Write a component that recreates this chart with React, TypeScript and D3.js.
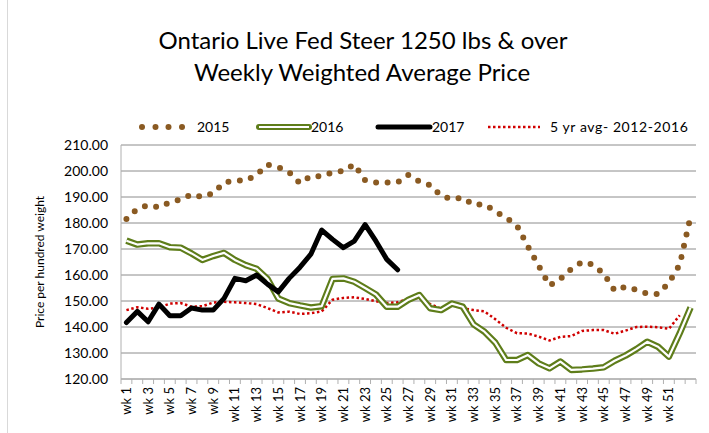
import React from 'react';
import * as d3 from 'd3';

const weeks: string[] = [
  'wk 1', 'wk 2', 'wk 3', 'wk 4', 'wk 5', 'wk 6', 'wk 7', 'wk 8', 'wk 9', 'wk 10',
  'wk 11', 'wk 12', 'wk 13', 'wk 14', 'wk 15', 'wk 16', 'wk 17', 'wk 18', 'wk 19', 'wk 20',
  'wk 21', 'wk 22', 'wk 23', 'wk 24', 'wk 25', 'wk 26', 'wk 27', 'wk 28', 'wk 29', 'wk 30',
  'wk 31', 'wk 32', 'wk 33', 'wk 34', 'wk 35', 'wk 36', 'wk 37', 'wk 38', 'wk 39', 'wk 40',
  'wk 41', 'wk 42', 'wk 43', 'wk 44', 'wk 45', 'wk 46', 'wk 47', 'wk 48', 'wk 49', 'wk 50',
  'wk 51', 'wk 52', '',
];

const yTicks = [120, 130, 140, 150, 160, 170, 180, 190, 200, 210];

const s2015 = [
  181.5, 185.5, 186.8, 186, 188, 189, 191, 190, 191.5, 195.6,
  196.3, 196.3, 198.5, 202.4, 201.5, 199.5, 195.3, 198, 198, 199.5,
  200, 202.6, 196.5, 195.6, 195.6, 195.6, 198.5, 196, 194.5, 190.5,
  189.2, 189.7, 187, 187.2, 184.5, 182, 179, 171, 163.5, 156,
  158.5, 162.3, 165, 164, 160.5, 154, 155.5, 154.3, 152.8, 152.7,
  157, 164, 182.5,
];

const s2016 = [
  173.2, 171.7, 172.2, 172.2, 170.7, 170.5, 168.3, 165.8, 167.3, 168.5,
  165.8, 163.8, 162.4, 158.5, 151, 149.2, 148.3, 147.5, 148, 158.5,
  158.7, 157.4, 155, 152.5, 147.8, 147.8, 150.5, 152.3, 147.2, 146.5,
  149, 147.8, 141, 138.2, 134, 127.3, 127.3, 129.2, 126, 124.1,
  126.7, 123.5, 123.7, 124, 124.5, 127, 129, 131.5, 134.3, 132.4,
  128.6, 137.6, 147.5,
];

const s2017 = [
  141.7, 146, 142, 148.8, 144.3, 144.3, 147.3, 146.5, 146.5, 151,
  158.7, 157.8, 160, 156.5, 153.5, 158.7, 163, 168, 177.3, 173.7,
  170.5, 173, 179.4, 173, 166, 162,
];

const avg5 = [
  146.5, 147.6, 147, 147.5, 149, 149.2, 147.8, 148, 149.4, 149.7,
  149.5, 149.2, 148.8, 147.3, 145.6, 145.9, 145, 145.3, 146, 150.5,
  151.2, 151.4, 150.8, 149.9, 149.2, 149.5, 151, 151.2, 148.8, 147,
  148.5, 147.2, 146.5, 146, 143, 139.7, 137.6, 137.5, 136.3, 134.8,
  136.2, 136.5, 138.5, 138.8, 138.8, 137.4, 138.6, 140, 140.1, 139.9,
  139.3, 144.5,
];

const W = 709;
const H = 433;
const left = 121;
const right = 696;
const top = 145;
const bottom = 379;
const font = 'Lato, "Open Sans", sans-serif';

const brown = '#8a5a22';
const green = '#5e7d1a';
const red = '#d00000';

export default function App() {
  const x = d3.scaleBand<string>().domain(weeks.map((_, i) => String(i))).range([left, right]).padding(0);
  const y = d3.scaleLinear().domain([120, 210]).range([bottom, top]);
  const cx = (i: number) => (x(String(i)) ?? 0) + x.bandwidth() / 2;

  const line = d3.line<number>().x((_, i) => cx(i)).y(d => y(d));

  return (
    <svg width={W} height={H} style={{ position: 'absolute', left: 0, top: 0, background: '#fff' }}>
      <rect x={7.5} y={-1} width={W} height={H + 2} fill="none" stroke="#d9d9d9" />
      {/* title */}
      <text x={363} y={49} textAnchor="middle" fontFamily={font} fontSize={24} fill="#000">
        Ontario Live Fed Steer 1250 lbs &amp; over
      </text>
      <text x={362} y={81} textAnchor="middle" fontFamily={font} fontSize={24} fill="#000">
        Weekly Weighted Average Price
      </text>

      {/* legend */}
      <g fontFamily={font} fontSize={14} fill="#000">
        {[142, 155.5, 168.5, 182].map(px => (
          <circle key={px} cx={px} cy={127} r={3} fill={brown} />
        ))}
        <text x={197} y={132}>2015</text>
        <line x1={259} x2={309} y1={127} y2={127} stroke={green} strokeWidth={6} strokeLinecap="round" />
        <line x1={259} x2={309} y1={127} y2={127} stroke="#fff" strokeWidth={2.2} />
        <text x={311} y={132}>2016</text>
        <line x1={378} x2={430} y1={127} y2={127} stroke="#000" strokeWidth={5} strokeLinecap="round" />
        <text x={432} y={132}>2017</text>
        <line x1={488} x2={540} y1={127} y2={127} stroke={red} strokeWidth={2.5} strokeDasharray="2.5 2.5" />
        <text x={550} y={132} letterSpacing={0.6}>5 yr avg- 2012-2016</text>
      </g>

      {/* grid */}
      {yTicks.map(t => (
        <g key={t}>
          <line x1={left} x2={right} y1={y(t)} y2={y(t)} stroke="#8c8c8c" strokeWidth={1} />
          <text x={108} y={y(t) + 5} textAnchor="end" fontFamily={font} fontSize={14} fill="#000">
            {t.toFixed(2)}
          </text>
        </g>
      ))}
      <line x1={left} x2={left} y1={top} y2={bottom} stroke="#b0b0b0" strokeWidth={1} />
      <line x1={left} x2={right} y1={bottom} y2={bottom} stroke="#b0b0b0" strokeWidth={1} />
      {weeks.map((_, i) => (
        <line key={i} x1={x(String(i))} x2={x(String(i))} y1={bottom} y2={bottom + 5} stroke="#b0b0b0" />
      ))}
      <line x1={right} x2={right} y1={bottom} y2={bottom + 5} stroke="#b0b0b0" />
      {weeks.map((w, i) =>
        i % 2 === 0 && w ? (
          <text
            key={w}
            transform={`translate(${cx(i) + 4.5},${bottom + 8}) rotate(-90)`}
            textAnchor="end"
            fontFamily={font}
            fontSize={13}
            fill="#000"
          >
            {w}
          </text>
        ) : null
      )}

      <text
        transform={`translate(44,${(top + bottom) / 2}) rotate(-90)`}
        textAnchor="middle"
        fontFamily={font}
        fontSize={12}
        fill="#000"
      >
        Price per hundred weight
      </text>

      {/* series */}
      <path d={line(avg5) ?? ''} fill="none" stroke={red} strokeWidth={2.5} strokeDasharray="2.5 2.5" />
      <path d={line(s2016) ?? ''} fill="none" stroke={green} strokeWidth={6.5} strokeLinejoin="round" />
      <path d={line(s2016) ?? ''} fill="none" stroke="#fff" strokeWidth={2.2} strokeLinejoin="round" />
      <path d={line(s2017) ?? ''} fill="none" stroke="#000" strokeWidth={5} strokeLinejoin="round" strokeLinecap="round" />
      <path
        d={line(s2015) ?? ''}
        fill="none"
        stroke={brown}
        strokeWidth={6}
        strokeDasharray="0 11.5"
        strokeLinecap="round"
      />
    </svg>
  );
}
